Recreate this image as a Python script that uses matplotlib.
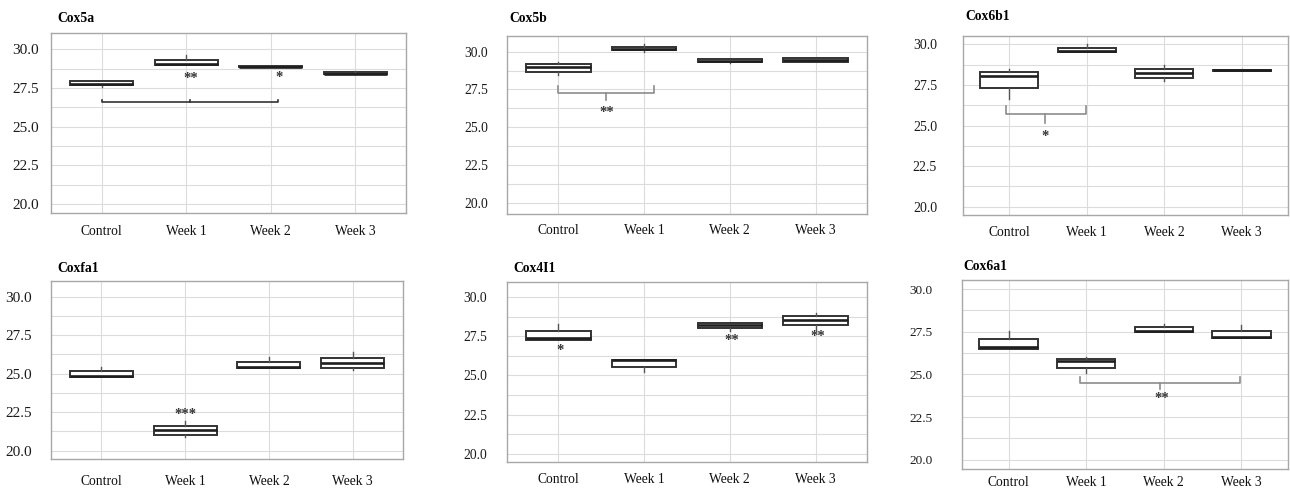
import numpy as np
import matplotlib

matplotlib.use("Agg")
import matplotlib.pyplot as plt

plt.rcParams.update({"font.family": ["Liberation Serif", "DejaVu Serif"]})

GENES = ["Cox5a", "Cox5b", "Cox6b1", "Coxfa1", "Cox4I1", "Cox6a1"]
GROUPS = ["Control", "Week 1", "Week 2", "Week 3"]

# box statistics per gene, one value per group (Control, Week 1, Week 2, Week 3)
Q1 = [[27.70, 28.97, 28.84, 28.39],
      [28.66, 30.09, 29.32, 29.33],
      [27.29, 29.53, 27.92, 28.36],
      [24.79, 21.02, 25.38, 25.38],
      [27.26, 25.55, 28.02, 28.19],
      [26.51, 25.40, 27.46, 27.15]]
MED = [[27.75, 29.03, 28.87, 28.43],
       [28.99, 30.20, 29.40, 29.42],
       [28.03, 29.60, 28.21, 28.39],
       [24.86, 21.36, 25.44, 25.66],
       [27.36, 25.96, 28.23, 28.55],
       [26.59, 25.79, 27.57, 27.22]]
Q3 = [[27.95, 29.33, 28.90, 28.52],
      [29.17, 30.33, 29.54, 29.55],
      [28.29, 29.75, 28.46, 28.42],
      [25.16, 21.62, 25.77, 26.00],
      [27.81, 26.00, 28.32, 28.79],
      [27.08, 25.88, 27.77, 27.55]]
WLO = [[27.57, 28.97, 28.84, 28.39],
       [28.44, 30.00, 29.23, 29.30],
       [26.61, 29.53, 27.72, 28.36],
       [24.79, 20.86, 25.38, 25.23],
       [27.26, 25.21, 27.83, 27.87],
       [26.51, 25.10, 27.46, 27.15]]
WHI = [[27.95, 29.63, 28.90, 28.60],
       [29.34, 30.49, 29.54, 29.60],
       [28.48, 30.00, 28.71, 28.48],
       [25.44, 21.94, 26.05, 26.41],
       [28.30, 26.00, 28.32, 29.00],
       [27.54, 26.02, 27.96, 27.92]]

# significance marks: (panel, x, y, text)
STARS = [(0, 1.05, 28.08, "**"), (0, 2.10, 28.15, "*"),
         (1, 0.56, 26.00, "**"),
         (2, 0.46, 24.35, "*"),
         (3, 1.00, 22.33, "***"),
         (4, 0.02, 26.60, "*"), (4, 2.02, 27.23, "**"), (4, 3.02, 27.50, "**"),
         (5, 1.98, 23.57, "**")]
# brackets: panel -> (x left, x right, x middle, y, end tick, middle tick)
BRACKETS = {0: (0.00, 2.08, 1.05, 26.58, 0.15, 0.15),
            1: (0.00, 1.12, 0.56, 27.26, 0.48, -0.44),
            2: (-0.05, 0.99, 0.46, 25.69, 0.51, -0.52),
            5: (0.92, 2.98, 1.95, 24.49, 0.36, -0.37)}

W, H = 1290, 488
# axes boxes in pixels: left, top, right, bottom
RECTS = [(51, 33, 406, 213), (507, 36, 867, 214), (963, 36, 1288, 215),
         (51, 281, 403, 459), (507, 282, 867, 462), (962, 280, 1288, 469)]
YLIMS = [(19.42, 31.05), (19.27, 31.03), (19.49, 30.51),
         (19.46, 31.01), (19.47, 30.96), (19.46, 30.53)]
YPAD = [12, 19, 26, 19, 20, 29]
YSIZE = [11, 9.8, 10, 11, 9.8, 9.5]
XPAD = [12, 10, 11, 16, 11, 7]
TITLE_OFF = [(6, 14), (2, 17), (2, 20), (6, 12), (6, 13), (1, 13)]
BRACKET_COLORS = ["#333333", "#8c8c8c", "#8c8c8c", None, None, "#8c8c8c"]

fig = plt.figure(figsize=(W / 100, H / 100), dpi=100)
fig.patch.set_facecolor("white")

for i, gene in enumerate(GENES):
    l, t, r, b = RECTS[i]
    ax = fig.add_axes([l / W, 1 - b / H, (r - l) / W, (b - t) / H])
    x = np.arange(len(GROUPS))
    stats = [dict(q1=Q1[i][k], med=MED[i][k], q3=Q3[i][k], whislo=WLO[i][k], whishi=WHI[i][k],
                  fliers=[]) for k in range(len(GROUPS))]
    ax.bxp(stats, positions=x, widths=0.75, showcaps=False, showfliers=False, patch_artist=True,
           boxprops=dict(facecolor="white", edgecolor="#333333", lw=1.4),
           medianprops=dict(color="#1e1e1e", lw=1.9),
           whiskerprops=dict(color="#555555", lw=1.0), manage_ticks=False, zorder=3)

    ax.set_xlim(-0.6, 3.6)
    ax.set_ylim(*YLIMS[i])
    ax.set_yticks([20.0, 22.5, 25.0, 27.5, 30.0])
    ax.set_yticks(np.arange(21.25, 30, 2.5), minor=True)
    ax.set_yticklabels([f"{v:.1f}" for v in [20.0, 22.5, 25.0, 27.5, 30.0]], fontsize=YSIZE[i], color="#1a1a1a")
    ax.set_xticks(x)
    ax.set_xticklabels(GROUPS, fontsize=9.8, color="#111111")
    ax.tick_params(axis="y", which="both", length=0, pad=YPAD[i] * 0.72)
    ax.tick_params(axis="x", length=0, pad=XPAD[i] * 0.72)
    ax.grid(True, which="both", color="#dcdcdc", lw=0.8)
    ax.set_axisbelow(True)
    for s in ax.spines.values():
        s.set_color("#a8a8a8")
        s.set_linewidth(1.0)

    dx, dy = TITLE_OFF[i]
    ax.text(dx / (r - l), 1 + dy / (b - t), gene, transform=ax.transAxes, fontsize=9.8,
            fontweight="bold", ha="left", va="center")

    if i in BRACKETS:
        x0, x1, xm, yb, end, mid = BRACKETS[i]
        c = BRACKET_COLORS[i]
        ax.plot([x0, x0, x1, x1], [yb + end, yb, yb, yb + end], color=c, lw=1.2, zorder=4)
        ax.plot([xm, xm], [yb, yb + mid], color=c, lw=1.2, zorder=4)

for p, sx, sy, txt in STARS:
    ax = fig.axes[p]
    ax.text(sx, sy, txt, ha="center", va="center", fontsize=10.5, fontweight="bold",
            color="#333333", zorder=5)

fig.savefig("out.png", dpi=100)
